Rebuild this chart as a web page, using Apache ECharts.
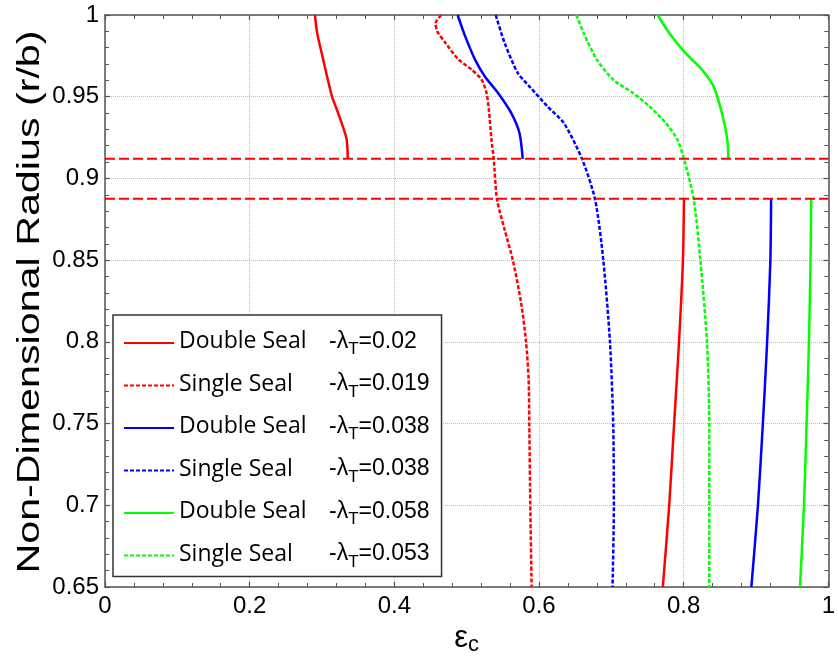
<!DOCTYPE html>
<html>
<head>
<meta charset="utf-8">
<script src="https://cdn.jsdelivr.net/npm/echarts@6/dist/echarts.min.js"></script>
<style>html,body{margin:0;padding:0;background:#fff}#c{width:838px;height:669px}</style>
</head>
<body>
<div id="c"></div>
<script>
// ---- data ----
const sealTypes = ['Double Seal', 'Single Seal', 'Double Seal', 'Single Seal', 'Double Seal', 'Single Seal'];
const lambdaLabels = ['0.02', '0.019', '0.038', '0.038', '0.058', '0.053'];
const xTicks = [0, 0.2, 0.4, 0.6, 0.8, 1];
const yTicks = [0.65, 0.7, 0.75, 0.8, 0.85, 0.9, 0.95, 1];
const sealLevels = [0.912, 0.8875];
const yTitle = 'Non-Dimensional Radius (r/b)';

const redDoubleUpper = [[0.2902,1.0],[0.2933,0.989],[0.3001,0.9757],[0.3070,0.9624],[0.3138,0.9502],[0.3206,0.942],[0.3288,0.9318],[0.3342,0.9237],[0.3356,0.912]];
const redDoubleLower = [[0.8004,0.8875],[0.799,0.85],[0.7936,0.8],[0.7868,0.75],[0.78,0.7],[0.7712,0.65]];
const redSingle = [[0.4648,1.0],[0.457,0.995],[0.4593,0.990],[0.4707,0.9829],[0.4889,0.9727],[0.5071,0.9665],[0.5207,0.9604],[0.5275,0.9523],[0.5307,0.942],[0.5343,0.9237],[0.5375,0.9115],[0.542,0.887],[0.5525,0.8686],[0.5639,0.8498],[0.5753,0.8238],[0.5821,0.8],[0.5857,0.7768],[0.5866,0.7497],[0.588,0.6997],[0.5898,0.65]];
const blueDoubleUpper = [[0.4875,1.0],[0.498,0.9869],[0.5116,0.9727],[0.5252,0.9624],[0.5434,0.9523],[0.5617,0.94],[0.573,0.9278],[0.5775,0.912]];
const blueDoubleLower = [[0.9209,0.8875],[0.9199,0.85],[0.9154,0.8],[0.9095,0.75],[0.9027,0.7],[0.8936,0.65]];
const blueSingle = [[0.5402,1.0],[0.5525,0.9829],[0.5707,0.9645],[0.5889,0.9553],[0.6116,0.9441],[0.6344,0.9339],[0.6594,0.912],[0.6776,0.887],[0.6889,0.85],[0.6981,0.8],[0.7026,0.75],[0.7035,0.7],[0.7017,0.65]];
const greenDoubleUpper = [[0.764,1.0],[0.78,0.989],[0.8026,0.9767],[0.8254,0.9665],[0.8413,0.9563],[0.8504,0.9441],[0.8572,0.9318],[0.8608,0.9217],[0.8618,0.912]];
const greenDoubleLower = [[0.9764,0.8875],[0.9754,0.85],[0.9732,0.8],[0.97,0.75],[0.9663,0.7],[0.9609,0.65]];
const greenSingle = [[0.6517,1.0],[0.6617,0.989],[0.6799,0.9727],[0.7026,0.9604],[0.7299,0.9523],[0.7527,0.9441],[0.7753,0.9339],[0.7913,0.9237],[0.8004,0.912],[0.814,0.887],[0.8231,0.85],[0.8322,0.8],[0.8354,0.75],[0.8354,0.7],[0.8354,0.65]];

// ---- build ----
const colors = ['#ff0000', '#ff0000', '#0000ff', '#0000ff', '#00ff00', '#00ff00'];
const curves = [
  redDoubleUpper.concat([['-','-']], redDoubleLower),
  redSingle,
  blueDoubleUpper.concat([['-','-']], blueDoubleLower),
  blueSingle,
  greenDoubleUpper.concat([['-','-']], greenDoubleLower),
  greenSingle
];
const names = sealTypes.map((s, i) => s + ' -λT=' + lambdaLabels[i]);

const series = curves.map((d, i) => ({
  name: names[i],
  type: 'line',
  data: d,
  symbol: 'none',
  smooth: 0.25,
  connectNulls: false,
  lineStyle: { color: colors[i], width: 2.5, type: sealTypes[i] === 'Single Seal' ? [4, 2] : 'solid' },
  itemStyle: { color: colors[i] },
  z: 3
}));
sealLevels.forEach(v => {
  series.push({
    name: 'level' + v,
    type: 'line',
    data: [[0, v], [1, v]],
    symbol: 'none',
    lineStyle: { color: '#ff0000', width: 2, type: [10, 4] },
    z: 4,
    silent: true
  });
});

const axisLineStyle = { color: '#555', width: 1.5 };
const tickStyle = { show: true, inside: true, length: 5, lineStyle: { color: '#555', width: 1.2 } };
const minorStyle = { show: true, splitNumber: 5, length: 4, lineStyle: { color: '#555', width: 1 } };
const chart = echarts.init(document.getElementById('c'), null, { renderer: 'canvas' });
chart.setOption({
  animation: false,
  backgroundColor: '#fff',
  textStyle: { fontFamily: 'Liberation Sans' },
  grid: { left: 105, top: 15, right: 2, bottom: 82, containLabel: false },
  legend: {
    data: names,
    orient: 'vertical',
    left: 113,
    top: 315,
    padding: [13, 12, 5, 10],
    itemGap: 11.5,
    itemWidth: 50,
    itemHeight: 30,
    backgroundColor: '#fff',
    borderColor: '#333',
    borderWidth: 1.5,
    borderRadius: 0,
    selectedMode: false,
    lineStyle: { width: 2 },
    itemStyle: { opacity: 0 },
    formatter: function (name) {
      const i = names.indexOf(name);
      return '{a|' + sealTypes[i] + '}{b|-λ}{s|T}{b|=' + lambdaLabels[i] + '}';
    },
    textStyle: {
      color: '#000',
      rich: {
        a: { fontFamily: 'Open Sans', fontSize: 23, width: 150, lineHeight: 30, padding: [2, 0, 6, 0], verticalAlign: 'top', color: '#000' },
        b: { fontFamily: 'Liberation Sans', fontSize: 23, lineHeight: 30, padding: [2, 0, 6, 0], verticalAlign: 'top', color: '#000' },
        s: { fontFamily: 'Liberation Sans', fontSize: 17, lineHeight: 18, verticalAlign: 'bottom', color: '#000' }
      }
    },
    z: 10
  },
  graphic: [{
    type: 'text',
    x: 30, y: 302,
    rotation: Math.PI / 2,
    scaleX: 1.33, scaleY: 1,
    style: { text: yTitle, fontFamily: 'Liberation Sans', fontSize: 31, fill: '#000', align: 'center', verticalAlign: 'middle' },
    z: 5
  }],
  xAxis: [{
    type: 'value', min: 0, max: 1, interval: 0.2, position: 'bottom',
    name: '{e|ε}{c|c}', nameLocation: 'middle', nameGap: 30,
    nameTextStyle: {
      rich: {
        e: { fontFamily: 'Liberation Sans', fontSize: 31, lineHeight: 36, color: '#000' },
        c: { fontFamily: 'Liberation Sans', fontSize: 22, lineHeight: 12, verticalAlign: 'bottom', color: '#000' }
      }
    },
    axisLine: { show: true, onZero: false, lineStyle: axisLineStyle },
    axisTick: tickStyle,
    minorTick: minorStyle,
    axisLabel: { fontSize: 24, color: '#000', margin: 7, fontFamily: 'Liberation Sans',
      formatter: v => { const r = Math.round(v * 100) / 100; return xTicks.includes(r) ? String(r) : ''; } },
    splitLine: { show: true, lineStyle: { type: 'dotted', color: '#bdbdbd', width: 1 } }
  }, {
    type: 'value', min: 0, max: 1, interval: 0.2, position: 'top',
    axisLine: { show: true, onZero: false, lineStyle: axisLineStyle },
    axisTick: tickStyle, minorTick: minorStyle,
    axisLabel: { show: false }, splitLine: { show: false }
  }],
  yAxis: [{
    type: 'value', min: 0.65, max: 1, interval: 0.05, position: 'left',
    axisLine: { show: true, onZero: false, lineStyle: axisLineStyle },
    axisTick: tickStyle, minorTick: minorStyle,
    axisLabel: { fontSize: 24, color: '#000', margin: 6, fontFamily: 'Liberation Sans',
      formatter: v => { const r = Math.round(v * 100) / 100; return yTicks.includes(r) ? String(r) : ''; } },
    splitLine: { show: true, lineStyle: { type: 'dotted', color: '#bdbdbd', width: 1 } }
  }, {
    type: 'value', min: 0.65, max: 1, interval: 0.05, position: 'right',
    axisLine: { show: true, onZero: false, lineStyle: axisLineStyle },
    axisTick: tickStyle, minorTick: minorStyle,
    axisLabel: { show: false }, splitLine: { show: false }
  }],
  series: series
});
</script>
</body>
</html>
